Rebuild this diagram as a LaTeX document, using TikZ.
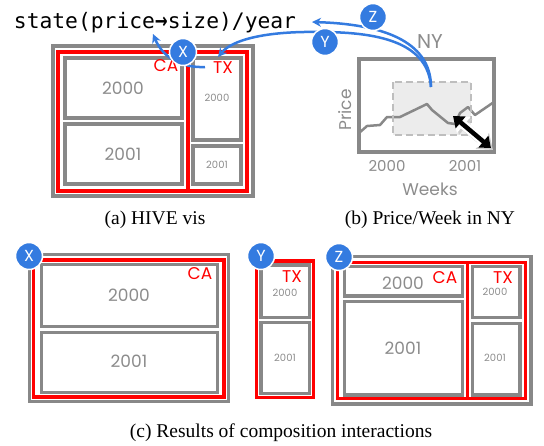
\documentclass[tikz,border=0pt]{standalone}
\usepackage{fontspec}
\setmainfont{Liberation Serif}
\newfontfamily\geofont{Poppins}
\newfontfamily\codefont{DejaVu Sans Mono}
\newfontfamily\arrowfont{DejaVu Sans}
\usetikzlibrary{arrows.meta}
\definecolor{hiveblue}{RGB}{52,123,224}
\definecolor{boxgray}{RGB}{136,136,136}
\definecolor{labelgray}{RGB}{140,140,140}
\definecolor{selgray}{RGB}{190,190,190}
\definecolor{selfill}{RGB}{236,236,236}
\newcommand{\codearrow}{\makebox[0.602em][c]{\scalebox{0.72}[1]{\arrowfont\bfseries →}}}

\begin{document}
\begin{tikzpicture}[x=1pt,y=-1pt]
        \tikzset{cell/.style = {draw=boxgray, line width=3.3pt}}
        \tikzset{region/.style = {draw=red, line width=3.3pt}}
        \tikzset{yearbig/.style = {text=labelgray, font=\geofont\fontsize{17}{17}\selectfont}}
        \tikzset{yearsmall/.style = {text=labelgray, font=\geofont\fontsize{10}{10}\selectfont}}
        \tikzset{axislabel/.style = {text=labelgray, font=\geofont\fontsize{17}{17}\selectfont}}
        \tikzset{tag/.style = {text=red, inner sep=0pt, font=\geofont\fontsize{17}{17}\selectfont}}
        \tikzset{badge/.style = {circle, fill=hiveblue, draw=white, line width=1.5pt, minimum size=27pt, inner sep=0pt, text=white, font=\geofont\fontsize{16}{16}\selectfont}}
        \tikzset{edge/.style = {hiveblue, line width=2.5pt, -{Stealth[length=9pt,width=9pt]}}}
        \tikzset{caption/.style = {font=\fontsize{19.5}{20}\selectfont}}
        \useasboundingbox (0,0) rectangle (544,445);

        % (a) HIVE vis
        \node[font=\codefont\fontsize{21.3}{22}\selectfont] (code) at (155,23) {state(price\codearrow size)/year};
        \draw[cell] (53,46) rectangle (253,196);
        \draw[region] (58,52) rectangle (188,191);
        \draw[region] (188,52) rectangle (247,191);
        \draw[cell] (65,58) rectangle (182,118);
        \draw[cell] (65,124) rectangle (182,184);
        \draw[cell] (193,58) rectangle (241,140);
        \draw[cell] (193,146) rectangle (241,184);
        \node[yearbig] (a1) at (123,88) {2000};
        \node[yearbig] (a2) at (123,154) {2001};
        \node[yearsmall] (a3) at (217,98) {2000};
        \node[yearsmall] (a4) at (217,165) {2001};
        \node[tag] (aCA) at (166,66) {CA};
        \node[tag] (aTX) at (223,68) {TX};

        % (b) Price/Week in NY
        \node[text=labelgray, font=\geofont\fontsize{20}{20}\selectfont] (ny) at (430,42) {NY};
        \fill[selfill] (393,82) rectangle (471,135);
        \draw[boxgray, line width=2.5pt, line join=round]
          (359,133) -- (367,126) -- (380,125) -- (387,117) -- (400,117) -- (427,104)
          -- (432,110) -- (448,123) -- (455,124) -- (460,113) -- (468,107) -- (475,115) -- (494,102);
        \draw[selgray, line width=2.5pt, dash pattern=on 7pt off 4pt] (393,82) rectangle (471,135);
        \draw[boxgray, line width=3.3pt] (359,59) rectangle (494,152);
        \node[axislabel, rotate=90] (price) at (345,110) {Price};
        \node[axislabel, font=\geofont\fontsize{15}{15}\selectfont] (y2000) at (387,166) {2000};
        \node[axislabel, font=\geofont\fontsize{15}{15}\selectfont] (y2001) at (465,166) {2001};
        \node[axislabel] (weeks) at (430,189) {Weeks};
        \coordinate (dragA) at (453,116);
        \coordinate (dragB) at (491,148);
        \draw[black!20, line width=9pt, {Triangle[length=14pt,width=20pt]}-{Triangle[length=14pt,width=20pt]}] ([shift={(2,2)}]dragA) -- ([shift={(2,2)}]dragB);
        \draw[white, line width=9pt, {Triangle[length=14pt,width=20pt]}-{Triangle[length=14pt,width=20pt]}] (dragA) -- (dragB);
        \draw[black, line width=4.5pt, {Triangle[length=10pt,width=15pt]}-{Triangle[length=10pt,width=15pt]}] (dragA) -- (dragB);

        % interactions
        \coordinate (grab) at (431,87);
        \coordinate (codeend) at (312,22);
        \coordinate (xtail) at (205,67);
        \coordinate (xhead) at (153,34);
        \coordinate (yhead) at (218,57);
        \draw[edge] (xtail) .. controls (182,68) and (163,58) .. (xhead);
        \draw[edge] (grab) .. controls (431,40) and (380,24) .. (codeend);
        \draw[edge] (grab) .. controls (428,45) and (385,32) .. (320,32) .. controls (265,31) and (232,40) .. (yhead);
        \node[badge] (bxa) at (183,52) {X};
        \node[badge] (bya) at (325,42) {Y};
        \node[badge] (bza) at (373,17) {Z};

        % (c) results
        \draw[cell] (29.5,254.5) rectangle (228.5,401.5);
        \draw[region] (33.5,260) rectangle (224,397);
        \draw[cell] (41.5,264.5) rectangle (217.5,326.5);
        \draw[cell] (41.5,332.5) rectangle (217.5,392.5);
        \node[yearbig] (c1) at (129,295) {2000};
        \node[yearbig] (c2) at (129,361) {2001};
        \node[tag] (cCA) at (200,274) {CA};

        \draw[region] (256.5,261) rectangle (313.5,397.5);
        \draw[cell] (261,265) rectangle (309.5,317.5);
        \draw[cell] (261,322.5) rectangle (309.5,393.5);
        \node[yearsmall] (c3) at (285,293) {2000};
        \node[yearsmall] (c4) at (285,358) {2001};
        \node[tag] (cTX) at (292,277) {TX};

        \draw[cell] (332.5,256.5) rectangle (531,404);
        \draw[region] (337.5,262.5) rectangle (467.5,398.5);
        \draw[region] (467.5,262.5) rectangle (525.5,398.5);
        \draw[cell] (344.5,266.5) rectangle (462.5,296);
        \draw[cell] (344.5,301.5) rectangle (462.5,395);
        \draw[cell] (472.5,266.5) rectangle (520,317.5);
        \draw[cell] (472.5,323.5) rectangle (520,395);
        \node[yearbig] (c5) at (403,283) {2000};
        \node[yearbig] (c6) at (403,348) {2001};
        \node[yearsmall] (c7) at (495,292) {2000};
        \node[yearsmall] (c8) at (495,358) {2001};
        \node[tag] (zCA) at (445,278) {CA};
        \node[tag] (zTX) at (503,278) {TX};

        \node[badge] (bxc) at (29,256) {X};
        \node[badge] (byc) at (261,256) {Y};
        \node[badge] (bzc) at (339,257) {Z};

        \node[caption] (capa) at (155,220) {(a) HIVE vis};
        \node[caption] (capb) at (430,220) {(b) Price/Week in NY};
        \node[caption] (capc) at (281,433) {(c) Results of composition interactions};
      \end{tikzpicture}
\end{document}
